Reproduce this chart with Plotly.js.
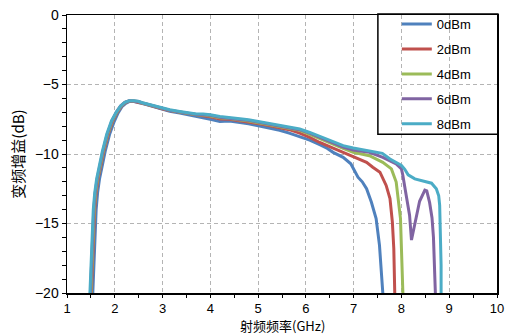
<!DOCTYPE html>
<html>
<head>
<meta charset="utf-8">
<script src="https://cdn.plot.ly/plotly-3.0.1.min.js"></script>
<style>html,body{margin:0;padding:0;background:#fff;}#chart{width:505px;height:336px;}</style>
</head>
<body>
<div id="chart"></div>
<script>
// Series names
const seriesNames = ["0dBm", "2dBm", "4dBm", "6dBm", "8dBm"];
const seriesColors = ["#4F81BD", "#C0504D", "#9BBB59", "#8064A2", "#4BACC6"];
const xTitle = '射频频率(GHz)';
const yTitle = '变频增益(dB)';

// 0dBm
const x0 = [1.54,1.56,1.58,1.61,1.64,1.68,1.74,1.80,1.89,1.99,2.07,2.15,2.23,2.31,2.40,2.49,2.58,2.66,2.80,2.93,3.01,3.15,3.36,3.50,3.71,3.85,4.00,4.20,4.40,4.62,4.80,5.03,5.20,5.45,5.65,5.87,6.08,6.29,6.45,6.57,6.78,6.94,7.02,7.09,7.18,7.27,7.37,7.47,7.54,7.58,7.61];
const y0 = [-20,-18,-16.5,-14,-12.8,-11.8,-10.8,-9.8,-8.6,-7.65,-7.05,-6.6,-6.35,-6.22,-6.22,-6.27,-6.37,-6.45,-6.6,-6.72,-6.82,-6.92,-7.05,-7.15,-7.3,-7.35,-7.5,-7.67,-7.62,-7.74,-7.82,-7.98,-8.1,-8.29,-8.5,-8.75,-9.0,-9.33,-9.6,-9.88,-10.24,-10.7,-11.2,-11.67,-12.0,-12.5,-13.45,-14.64,-16.55,-18.5,-20];

// 2dBm
const x1 = [1.51,1.53,1.55,1.58,1.61,1.65,1.71,1.77,1.86,1.96,2.05,2.14,2.22,2.31,2.40,2.49,2.58,2.66,2.80,2.93,3.01,3.15,3.36,3.50,3.71,3.85,4.00,4.20,4.40,4.62,4.80,5.03,5.20,5.45,5.65,5.87,6.08,6.29,6.45,6.57,6.78,6.99,7.13,7.27,7.40,7.55,7.68,7.76,7.81,7.84,7.86];
const y1 = [-20,-18,-16.5,-14,-12.8,-11.8,-10.8,-9.8,-8.6,-7.62,-7.0,-6.55,-6.3,-6.19,-6.2,-6.25,-6.35,-6.43,-6.58,-6.68,-6.77,-6.88,-7.0,-7.1,-7.22,-7.25,-7.33,-7.48,-7.5,-7.6,-7.68,-7.83,-7.93,-8.1,-8.25,-8.5,-8.8,-9.17,-9.38,-9.57,-9.88,-10.17,-10.35,-10.6,-10.95,-11.31,-12.26,-13.2,-14.9,-16.8,-20];

// 4dBm
const x2 = [1.50,1.52,1.54,1.57,1.60,1.64,1.70,1.76,1.85,1.95,2.04,2.13,2.22,2.31,2.40,2.49,2.58,2.66,2.80,2.93,3.01,3.15,3.36,3.50,3.71,3.85,4.00,4.20,4.40,4.62,4.80,5.03,5.20,5.45,5.65,5.87,6.08,6.29,6.45,6.57,6.78,6.99,7.33,7.61,7.79,7.89,7.93,7.98,8.0,8.03];
const y2 = [-20,-18,-16.5,-14,-12.8,-11.8,-10.8,-9.8,-8.6,-7.62,-7.0,-6.55,-6.29,-6.18,-6.19,-6.23,-6.33,-6.41,-6.56,-6.66,-6.74,-6.86,-6.98,-7.08,-7.18,-7.2,-7.26,-7.4,-7.44,-7.55,-7.62,-7.77,-7.87,-8.02,-8.14,-8.3,-8.58,-8.9,-9.12,-9.3,-9.6,-9.88,-10.12,-10.6,-11.07,-12.02,-13.2,-14.64,-16.8,-20];

// 6dBm
const x3 = [1.49,1.51,1.53,1.56,1.59,1.63,1.69,1.75,1.84,1.94,2.03,2.12,2.21,2.30,2.40,2.49,2.58,2.66,2.80,2.93,3.01,3.15,3.36,3.50,3.71,3.85,4.00,4.20,4.40,4.62,4.80,5.03,5.20,5.45,5.65,5.87,6.08,6.29,6.45,6.57,6.78,6.99,7.33,7.61,7.89,8.0,8.03,8.10,8.17,8.21,8.28,8.38,8.49,8.53,8.59,8.64,8.67,8.69,8.71];
const y3 = [-20,-18,-16.5,-14,-12.8,-11.8,-10.8,-9.8,-8.6,-7.62,-7.0,-6.55,-6.28,-6.17,-6.18,-6.22,-6.32,-6.4,-6.55,-6.65,-6.73,-6.85,-6.97,-7.06,-7.16,-7.17,-7.22,-7.36,-7.41,-7.51,-7.58,-7.73,-7.83,-7.98,-8.09,-8.25,-8.5,-8.8,-9.03,-9.2,-9.5,-9.72,-9.88,-10.24,-10.71,-11.07,-11.55,-12.98,-14.4,-16.19,-15.1,-13.4,-12.6,-12.65,-13.5,-14.6,-16,-18,-20];

// 8dBm
const x4 = [1.48,1.50,1.52,1.55,1.58,1.62,1.68,1.74,1.83,1.93,2.03,2.12,2.21,2.30,2.40,2.49,2.58,2.66,2.80,2.93,3.01,3.15,3.36,3.50,3.71,3.85,4.00,4.20,4.40,4.62,4.80,5.03,5.20,5.45,5.65,5.87,6.08,6.29,6.45,6.57,6.78,6.99,7.33,7.47,7.60,7.76,7.90,8.0,8.07,8.14,8.28,8.49,8.63,8.73,8.78,8.80,8.82,8.83,8.83];
const y4 = [-20,-18,-16.5,-14,-12.8,-11.8,-10.8,-9.8,-8.6,-7.62,-7.0,-6.55,-6.28,-6.17,-6.17,-6.21,-6.31,-6.38,-6.52,-6.62,-6.7,-6.82,-6.94,-7.03,-7.12,-7.12,-7.17,-7.3,-7.35,-7.46,-7.53,-7.68,-7.78,-7.93,-8.03,-8.2,-8.45,-8.75,-8.98,-9.15,-9.4,-9.57,-9.76,-9.85,-9.95,-10.36,-10.6,-10.83,-11.1,-11.5,-11.79,-11.98,-12.1,-12.5,-13.0,-13.7,-15.6,-18,-20];

const xs = [x0, x1, x2, x3, x4];
const ys = [y0, y1, y2, y3, y4];

const traces = seriesNames.map((name, i) => ({
  x: xs[i], y: ys[i], name: name, type: 'scatter', mode: 'lines',
  legendgroup: 'g' + i,
  line: {color: seriesColors[i], width: 3}
}));

const tickFont = {family: 'Liberation Sans, Arial, sans-serif', size: 14, color: '#000'};

const layout = {
  width: 505, height: 336,
  margin: {l: 67, r: 8, t: 15, b: 43, pad: 0},
  paper_bgcolor: '#fff', plot_bgcolor: '#fff',
  showlegend: true,
  legend: {
    x: 0.767, y: 1.021, xanchor: 'left', yanchor: 'top',
    bgcolor: 'rgba(0,0,0,0)', borderwidth: 0,
    font: {family: 'Liberation Sans, Arial, sans-serif', size: 13, color: '#000'},
    tracegroupgap: 5
  },
  xaxis: {
    range: [1, 10], dtick: 1, tick0: 1,
    ticks: 'outside', ticklen: 3, tickcolor: '#000', tickwidth: 1,
    showline: true, linecolor: '#000', linewidth: 1.5, mirror: true,
    showgrid: true, gridcolor: '#b4b4b4', griddash: '4px,3px', gridwidth: 1,
    zeroline: false,
    minor: {dtick: 0.5, ticks: 'outside', ticklen: 3, tickcolor: '#000', showgrid: false},
    tickfont: {family: 'Liberation Sans, Arial, sans-serif', size: 13, color: '#000'}
  },
  yaxis: {
    range: [-20, 0], dtick: 5,
    ticks: 'outside', ticklen: 4, tickcolor: '#000', tickwidth: 1,
    showline: true, linecolor: '#000', linewidth: 1.5, mirror: true,
    showgrid: true, gridcolor: '#b4b4b4', griddash: '4px,3px', gridwidth: 1,
    zeroline: false,
    minor: {dtick: 1, ticks: 'outside', ticklen: 4, tickcolor: '#000', showgrid: false},
    tickfont: tickFont,
    title: {text: yTitle, font: {family: 'Noto Sans CJK SC, sans-serif', size: 15, color: '#000'}, standoff: 6}
  },
  annotations: [{
    text: xTitle, xref: 'paper', yref: 'paper', x: 0.5, y: -0.1547,
    xanchor: 'center', yanchor: 'bottom', showarrow: false, borderpad: 0,
    font: {family: 'Noto Sans CJK SC, sans-serif', size: 13, color: '#000'}
  }],
  shapes: [{
    type: 'rect', xref: 'paper', yref: 'paper',
    x0: 0.723, x1: 1.002, y0: 0.571, y1: 1.004,
    line: {color: '#000', width: 1.5}, fillcolor: 'rgba(0,0,0,0)'
  }]
};

Plotly.newPlot('chart', traces, layout, {staticPlot: true, displayModeBar: false});
</script>
</body>
</html>
